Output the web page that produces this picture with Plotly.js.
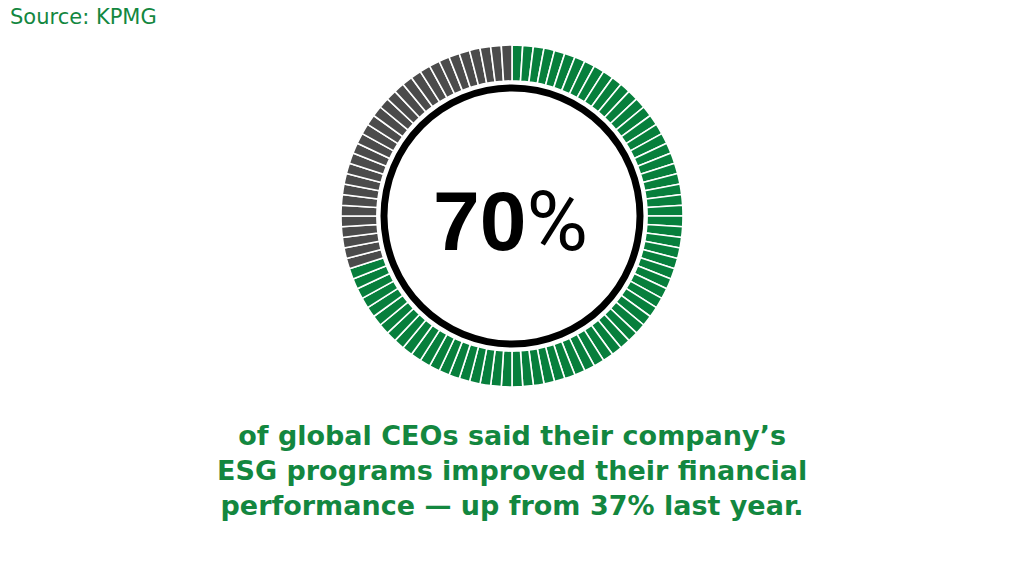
<!DOCTYPE html>
<html>
<head>
<meta charset="utf-8">
<script src="https://cdn.plot.ly/plotly-3.0.1.min.js"></script>
<style>html,body{margin:0;padding:0;background:#fff;}#chart{width:1024px;height:576px;}</style>
</head>
<body>
<div id="chart"></div>
<script>
// Data
const shareLabels = ["Improved financial performance", "Other"];
const shareValues = [70, 30];          // percent of global CEOs
const totalUnits = 100;                 // ring split into 100 equal ticks
const previousYear = 37;
const headlineNumber = "70";
const headlineUnit = "%";
const caption = ["of global CEOs said their company’s", "ESG programs improved their financial", "performance — up from 37% last year."];
const source = "Source: KPMG";

const green = "#077f3c";
const grey = "#4b4b4b";
const textGreen = "#13873f";

// build the unit ticks from the share
const unitValues = [];
const unitColors = [];
const unitLabels = [];
for (let i = 0; i < totalUnits; i++) {
  unitValues.push(1);
  const inShare = i < shareValues[0] * totalUnits / 100;
  unitColors.push(inShare ? green : grey);
  unitLabels.push("u" + i);
}

const cx = 512, cy = 216, W = 1024, H = 576;
function dom(r) {
  return {x: [(cx - r) / W, (cx + r) / W], y: [(H - cy - r) / H, (H - cy + r) / H]};
}

const traces = [
  {
    type: "pie",
    values: unitValues,
    labels: unitLabels,
    sort: false,
    direction: "clockwise",
    rotation: 0,
    hole: 0.79,
    textinfo: "none",
    hoverinfo: "skip",
    marker: {colors: unitColors, line: {color: "#ffffff", width: 1.6}},
    domain: dom(171),
    showlegend: false
  },
  {
    type: "pie",
    values: [1],
    labels: ["ring"],
    hole: 0.947,
    textinfo: "none",
    hoverinfo: "skip",
    marker: {colors: ["#000000"], line: {width: 0}},
    domain: dom(131.5),
    showlegend: false
  }
];

const layout = {
  width: W, height: H,
  margin: {l: 0, r: 0, t: 0, b: 0},
  paper_bgcolor: "#ffffff",
  plot_bgcolor: "#ffffff",
  showlegend: false,
  annotations: [
    {
      text: headlineNumber + "<span style=\"font-family:Roboto;font-weight:400\">" + headlineUnit + "</span>",
      xref: "paper", yref: "paper", x: 510 / W, y: (H - 221) / H,
      xanchor: "center", yanchor: "middle", showarrow: false,
      font: {family: "Liberation Sans, Arial, sans-serif", size: 84, color: "#000000", weight: 700}
    },
    {
      text: source, xref: "paper", yref: "paper", x: 8 / W, y: (H - 17) / H,
      xanchor: "left", yanchor: "middle", showarrow: false,
      font: {family: "DejaVu Sans, sans-serif", size: 21, color: textGreen}
    },
    {
      text: caption.join("<br>"), xref: "paper", yref: "paper", x: cx / W, y: (H - 470) / H,
      xanchor: "center", yanchor: "middle", align: "center", showarrow: false,
      font: {family: "DejaVu Sans, sans-serif", size: 27, color: textGreen, weight: 700}
    }
  ]
};

Plotly.newPlot("chart", traces, layout, {staticPlot: true, displayModeBar: false});
</script>
</body>
</html>
